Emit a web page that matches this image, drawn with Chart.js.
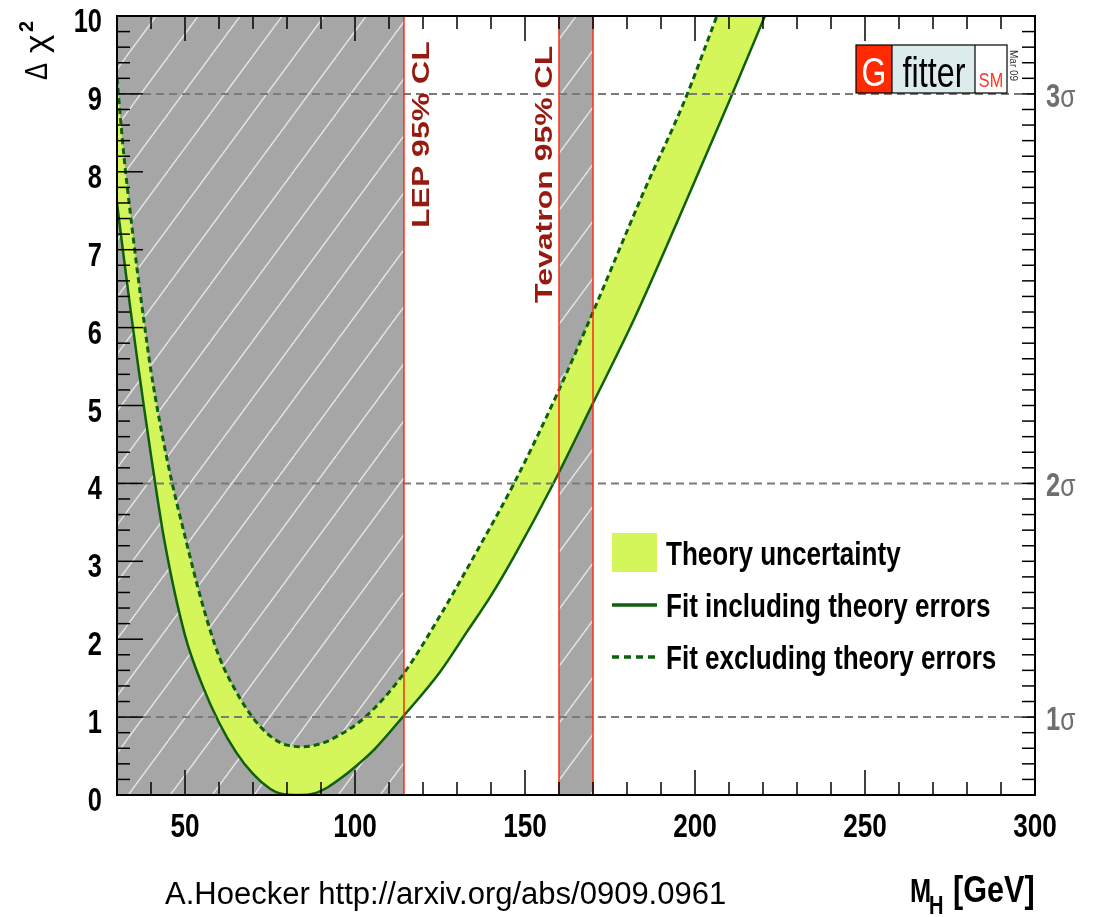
<!DOCTYPE html>
<html>
<head>
<meta charset="utf-8">
<title>Gfitter: Delta chi2 versus M_H</title>
<script src="https://cdn.jsdelivr.net/npm/chart.js@4.4.1/dist/chart.umd.min.js"></script>
<style>
  html, body { margin: 0; padding: 0; background: #fff; }
</style>
</head>
<body>
<canvas id="gfitter-chart" width="1093" height="917"></canvas>
<script>
/*
 * Data (Delta chi2 vs Higgs mass)
**/
// Fit including theory errors (solid, lower edge of the band)
const inclMass = [30, 32, 34, 36, 38, 40, 44, 50, 55, 60, 65, 70, 75, 78, 84, 88, 92, 96, 100, 106, 114, 125, 133, 140, 147, 158, 170, 182, 195, 210, 222]
const inclChi2 = [7.6, 6.9, 6.22, 5.58, 4.96, 4.36, 3.25, 2.05, 1.42, 0.93, 0.55, 0.27, 0.08, 0.02, 0.0, 0.02, 0.1, 0.22, 0.36, 0.6, 1.0, 1.58, 2.1, 2.56, 3.08, 3.97, 5.03, 6.1, 7.38, 8.9, 10.15]

// Fit excluding theory errors (dashed, upper edge of the band)
const exclMass = [30, 32, 34, 36, 38, 40, 45, 50, 55, 60, 65, 70, 75, 80, 85, 90, 95, 103, 114, 125, 137, 147, 160, 170, 185, 197, 206, 222]
const exclChi2 = [9.2, 8.22, 7.44, 6.72, 6.06, 5.44, 4.25, 3.32, 2.47, 1.78, 1.33, 0.99, 0.76, 0.64, 0.62, 0.66, 0.76, 1.0, 1.54, 2.3, 3.22, 4.02, 5.2, 6.2, 7.75, 8.92, 9.95, 11.8]

// Direct search exclusions (GeV)
const lepExcluded = [30, 114.4]
const tevatronExcluded = [160, 170]
const exclusionLabels = ['LEP 95% CL', 'Tevatron 95% CL']

// Sigma reference levels
const sigmaChi2 = [1, 4, 9]
const sigmaLabels = ['1σ', '2σ', '3σ']

// Axes
const massRange = [30, 300]
const chi2Range = [0, 10]
const xTickValues = [50, 100, 150, 200, 250, 300]
const yTickValues = [0, 1, 2, 3, 4, 5, 6, 7, 8, 9, 10]

const legendLabels = ['Theory uncertainty', 'Fit including theory errors', 'Fit excluding theory errors']
const creditText = 'A.Hoecker http://arxiv.org/abs/0909.0961'

/*
 * Styles
**/
const FONT = '"Liberation Sans", Arial, Helvetica, sans-serif'
const SQUEEZE = 0.77
const bandColor = '#d5f65a'
const fitGreen = '#0e5f0e'
const limitRed = '#ff2a14'
const labelRed = '#961a0f'

const toPoints = (xs, ys) => xs.map((x, i) => ({ x: x, y: ys[i] }))

// grey hatched fill for excluded regions
function makeHatch() {
  const w = 42, h = 57
  const c = document.createElement('canvas')
  c.width = w
  c.height = h
  const g = c.getContext('2d')
  g.fillStyle = '#a6a6a6'
  g.fillRect(0, 0, w, h)
  g.strokeStyle = 'rgba(240,240,240,0.85)'
  g.lineWidth = 1.4
  for (let k = -1; k <= 1; k++) {
    g.beginPath()
    g.moveTo(k * w, h)
    g.lineTo(k * w + w, 0)
    g.stroke()
  }
  return g.createPattern(c, 'repeat')
}

function squeezedText(ctx, text, x, y, font, color, align, squeeze) {
  ctx.save()
  ctx.font = font
  ctx.fillStyle = color
  ctx.textAlign = 'left'
  ctx.textBaseline = 'alphabetic'
  const w = ctx.measureText(text).width * squeeze
  let x0 = x
  if (align === 'center') x0 = x - w / 2
  else if (align === 'right') x0 = x - w
  ctx.translate(x0, y)
  ctx.scale(squeeze, 1)
  ctx.fillText(text, 0, 0)
  ctx.restore()
  return w
}

// text reading bottom to top, baseline at x, starting at y
function verticalText(ctx, text, x, y, font, color, crossSqueeze) {
  ctx.save()
  ctx.translate(x, y)
  ctx.rotate(-Math.PI / 2)
  ctx.scale(1, crossSqueeze)
  ctx.font = font
  ctx.fillStyle = color
  ctx.textAlign = 'left'
  ctx.textBaseline = 'alphabetic'
  ctx.fillText(text, 0, 0)
  ctx.restore()
}

function line(ctx, x1, y1, x2, y2) {
  ctx.beginPath()
  ctx.moveTo(x1, y1)
  ctx.lineTo(x2, y2)
  ctx.stroke()
}

/*
 * Plugin: frame, inward ticks, labels, legend, logo
**/
const decorPlugin = {
  id: 'gfitterDecor',
  beforeDraw(chart) {
    const ctx = chart.ctx
    ctx.save()
    ctx.fillStyle = '#fff'
    ctx.fillRect(0, 0, chart.width, chart.height)
    ctx.restore()
  },
  afterDraw(chart) {
    const ctx = chart.ctx
    const xs = chart.scales.x
    const ys = chart.scales.y
    const { left, right, top, bottom } = chart.chartArea

    // frame + ticks drawn inward (ROOT style)
    ctx.save()
    ctx.strokeStyle = '#000'
    ctx.lineWidth = 1.5
    for (let m = massRange[0]; m <= massRange[1]; m += 10) {
      const px = xs.getPixelForValue(m)
      const len = m % 50 === 0 ? 25 : 13
      line(ctx, px, bottom, px, bottom - len)
      line(ctx, px, top, px, top + len)
    }
    for (let i = 0; i <= chi2Range[1] * 5; i++) {
      const py = ys.getPixelForValue(i / 5)
      const len = i % 5 === 0 ? 26 : 13
      line(ctx, left, py, left + len, py)
      line(ctx, right, py, right - 13, py)
    }
    ctx.lineWidth = 2
    ctx.strokeRect(left, top, right - left, bottom - top)
    ctx.restore()

    // tick labels
    ys.ticks.forEach(t => {
      const py = ys.getPixelForValue(t.value)
      squeezedText(ctx, String(t.value), left - 15, py + 16, `bold 33px ${FONT}`, '#000', 'right', SQUEEZE)
    })
    xs.ticks.forEach(t => {
      const px = xs.getPixelForValue(t.value)
      squeezedText(ctx, String(t.value), px, 837, `bold 34px ${FONT}`, '#000', 'center', SQUEEZE)
    })

    // sigma labels on the right
    sigmaChi2.forEach((s, i) => {
      const py = ys.getPixelForValue(s)
      const label = sigmaLabels[i]
      const w = squeezedText(ctx, label.slice(0, -1), right + 11, py + 13, `bold 33px ${FONT}`, '#6e6e6e', 'left', SQUEEZE)
      squeezedText(ctx, label.slice(-1), right + 11 + w, py + 13, `32px ${FONT}`, '#6e6e6e', 'left', SQUEEZE)
    })

    // exclusion labels
    const lepPx = xs.getPixelForValue(lepExcluded[1])
    const tevPx = xs.getPixelForValue(tevatronExcluded[0])
    verticalText(ctx, exclusionLabels[0], lepPx + 25, 228, `bold 32px ${FONT}`, labelRed, 0.73)
    verticalText(ctx, exclusionLabels[1], tevPx - 7, 303, `bold 32px ${FONT}`, labelRed, 0.73)

    // legend
    ctx.save()
    ctx.fillStyle = bandColor
    ctx.fillRect(612, 533, 45, 39)
    ctx.strokeStyle = fitGreen
    ctx.lineWidth = 3.5
    line(ctx, 612, 605, 657, 605)
    ctx.setLineDash([7, 5])
    line(ctx, 612, 657, 657, 657)
    ctx.restore()
    const legendFont = `bold 33px ${FONT}`
    squeezedText(ctx, legendLabels[0], 666, 565, legendFont, '#000', 'left', 0.79)
    squeezedText(ctx, legendLabels[1], 666, 617, legendFont, '#000', 'left', 0.79)
    squeezedText(ctx, legendLabels[2], 666, 669, legendFont, '#000', 'left', 0.79)

    // Gfitter logo
    ctx.save()
    ctx.fillStyle = '#ff2a00'
    ctx.fillRect(856, 45, 36, 48)
    ctx.fillStyle = '#dcebeb'
    ctx.fillRect(892, 45, 83, 48)
    ctx.fillStyle = '#fff'
    ctx.fillRect(975, 45, 32, 48)
    ctx.strokeStyle = '#000'
    ctx.lineWidth = 1.2
    ctx.strokeRect(856, 45, 151, 48)
    line(ctx, 892, 45, 892, 93)
    line(ctx, 975, 45, 975, 93)
    ctx.restore()
    squeezedText(ctx, 'G', 874, 86, `40px ${FONT}`, '#fff', 'center', 0.8)
    squeezedText(ctx, 'fitter', 934, 87, `42px ${FONT}`, '#000', 'center', SQUEEZE)
    squeezedText(ctx, 'SM', 991, 87, `21px ${FONT}`, '#ff3322', 'center', SQUEEZE)
    ctx.save()
    ctx.translate(1010, 50)
    ctx.rotate(Math.PI / 2)
    ctx.font = `10px ${FONT}`
    ctx.fillStyle = '#333'
    ctx.fillText('Mar 09', 0, 0)
    ctx.restore()

    // y axis title: Delta chi^2
    ctx.save()
    ctx.translate(47, 80)
    ctx.rotate(-Math.PI / 2)
    ctx.fillStyle = '#000'
    ctx.font = `32px ${FONT}`
    ctx.save()
    ctx.scale(0.8, 1)
    ctx.fillText('Δ', 0, 0)
    ctx.restore()
    ctx.save()
    ctx.translate(27, 0)
    ctx.scale(1.1, 1)
    ctx.fillText('χ', 0, 0)
    ctx.restore()
    ctx.font = `bold 20px ${FONT}`
    ctx.fillText('2', 48, -14)
    ctx.restore()

    // x axis title: M_H [GeV]
    squeezedText(ctx, 'M', 910, 902, `bold 33px ${FONT}`, '#000', 'left', SQUEEZE)
    squeezedText(ctx, 'H', 929, 914, `bold 26px ${FONT}`, '#000', 'left', SQUEEZE)
    squeezedText(ctx, '[GeV]', 953, 902, `bold 36px ${FONT}`, '#000', 'left', 0.85)

    // credit line
    ctx.save()
    ctx.font = `31px ${FONT}`
    ctx.fillStyle = '#000'
    ctx.fillText(creditText, 165, 904)
    ctx.restore()
  }
}

/*
 * Datasets
**/
const hatch = makeHatch()
const lineBase = { pointRadius: 0, pointHoverRadius: 0, tension: 0, fill: false }

const exclusionSet = (range) => Object.assign({}, lineBase, {
  label: 'excluded',
  data: [{ x: range[0], y: chi2Range[1] }, { x: range[1], y: chi2Range[1] }],
  borderWidth: 0,
  backgroundColor: hatch,
  fill: 'origin',
  order: 10
})

const limitLine = (mass) => Object.assign({}, lineBase, {
  label: 'limit',
  data: [{ x: mass, y: chi2Range[0] }, { x: mass, y: chi2Range[1] }],
  borderColor: limitRed,
  borderWidth: 1.5,
  order: 1
})

const sigmaLine = (s) => Object.assign({}, lineBase, {
  label: 'sigma',
  data: [{ x: massRange[0], y: s }, { x: massRange[1], y: s }],
  borderColor: '#7a7a7a',
  borderWidth: 2,
  borderDash: [8, 5],
  order: 2
})

const datasets = [
  exclusionSet(lepExcluded),
  exclusionSet(tevatronExcluded),
  Object.assign({}, lineBase, {
    label: legendLabels[1],
    data: toPoints(inclMass, inclChi2),
    borderColor: fitGreen,
    borderWidth: 2.5,
    cubicInterpolationMode: 'monotone',
    order: 4
  }),
  Object.assign({}, lineBase, {
    label: legendLabels[2],
    data: toPoints(exclMass, exclChi2),
    borderColor: fitGreen,
    borderWidth: 3,
    borderDash: [6, 4],
    backgroundColor: bandColor,
    fill: '-1',
    cubicInterpolationMode: 'monotone',
    order: 5
  }),
  ...sigmaChi2.map(sigmaLine),
  limitLine(lepExcluded[1]),
  limitLine(tevatronExcluded[0]),
  limitLine(tevatronExcluded[1])
]

const config = {
  type: 'line',
  data: { datasets: datasets },
  options: {
    responsive: false,
    animation: false,
    events: [],
    devicePixelRatio: 1,
    layout: { padding: { left: 0, top: 16, right: 58, bottom: 0 } },
    scales: {
      x: {
        type: 'linear',
        min: massRange[0],
        max: massRange[1],
        grid: { display: false, drawTicks: false },
        border: { display: false },
        ticks: { display: false },
        afterBuildTicks: (scale) => { scale.ticks = xTickValues.map(v => ({ value: v })) },
        afterFit: (scale) => { scale.height = 122 }
      },
      y: {
        type: 'linear',
        min: chi2Range[0],
        max: chi2Range[1],
        grid: { display: false, drawTicks: false },
        border: { display: false },
        ticks: { display: false },
        afterBuildTicks: (scale) => { scale.ticks = yTickValues.map(v => ({ value: v })) },
        afterFit: (scale) => { scale.width = 117 }
      }
    },
    plugins: {
      legend: { display: false },
      tooltip: { enabled: false },
      filler: { propagate: false }
    }
  },
  plugins: [decorPlugin]
}

new Chart(document.getElementById('gfitter-chart'), config)
</script>
</body>
</html>
